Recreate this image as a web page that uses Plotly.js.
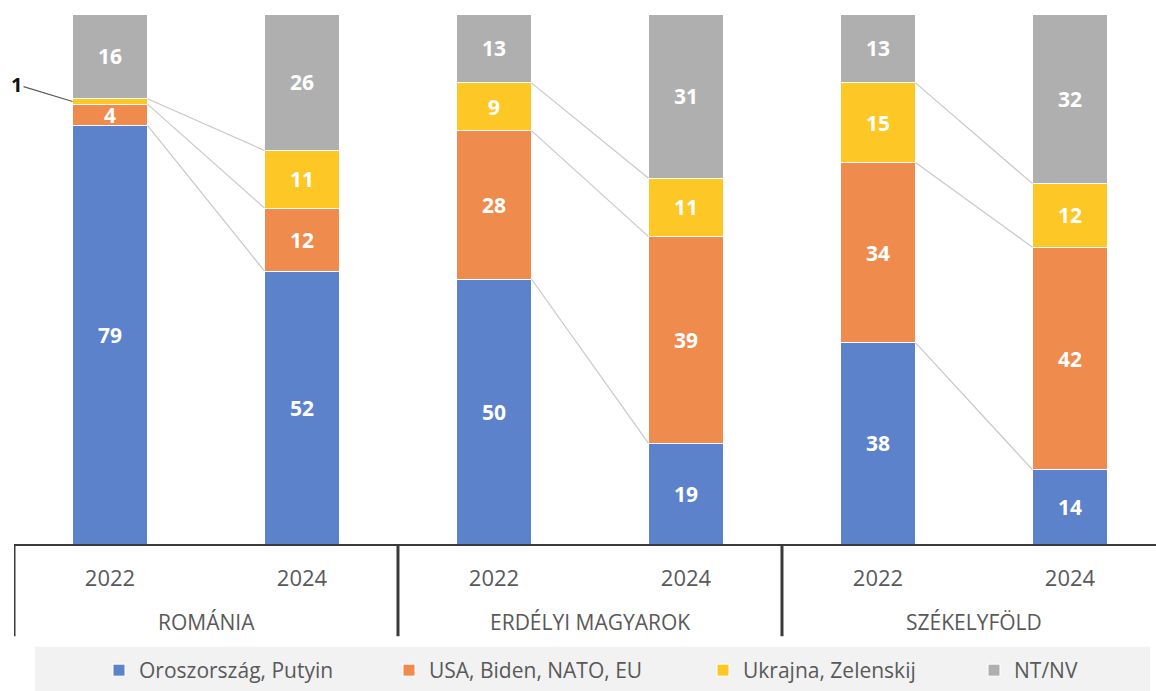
<!DOCTYPE html>
<html>
<head>
<meta charset="utf-8">
<script src="https://cdn.plot.ly/plotly-3.0.1.min.js"></script>
<style>html,body{margin:0;padding:0;background:#fff;}#chart{width:1156px;height:691px;}</style>
</head>
<body>
<div id="chart"></div>
<script>
// ---- data ----
var years = ['2022', '2024', '2022', '2024', '2022', '2024'];
var regions = ['ROMÁNIA', 'ERDÉLYI MAGYAROK', 'SZÉKELYFÖLD'];
var seriesNames = ['Oroszország, Putyin', 'USA, Biden, NATO, EU', 'Ukrajna, Zelenskij', 'NT/NV'];
var russia  = [79, 52, 50, 19, 38, 14];
var west    = [4, 12, 28, 39, 34, 42];
var ukraine = [1, 11, 9, 11, 15, 12];
var ntnv    = [16, 26, 13, 31, 13, 32];

var colors = ['#5b82cb', '#ef8b4c', '#fdc725', '#afafaf'];
var series = [russia, west, ukraine, ntnv];
var xpos = years.map(function (_, i) { return i; });
var BW = 0.39;

var font = '"Open Sans", "Noto Sans", sans-serif';
var legendKeys = ['legend', 'legend2', 'legend3', 'legend4'];

var traces = series.map(function (vals, s) {
  return {
    type: 'bar',
    name: seriesNames[s],
    x: xpos,
    y: vals,
    width: BW,
    legend: legendKeys[s],
    marker: { color: colors[s], line: { color: '#ffffff', width: 1 } },
    text: vals.map(function (v) { return v >= 3 ? String(v) : ''; }),
    textposition: 'inside',
    insidetextanchor: 'middle',
    textangle: 0,
    textfont: { family: font, size: 21, color: '#ffffff', weight: 'bold' },
    hoverinfo: 'skip'
  };
});

// normalized cumulative tops (100% stacked)
function cumTops(i) {
  var tot = 0, c = [], acc = 0;
  series.forEach(function (v) { tot += v[i]; });
  series.forEach(function (v) { acc += v[i]; c.push(acc / tot * 100); });
  return c;
}

var shapes = [];
// legend background
shapes.push({ type: 'rect', xref: 'paper', yref: 'paper', x0: 0.0184, x1: 0.9947, y0: -0.194, y1: -0.29,
  fillcolor: '#f2f2f2', line: { width: 0 }, layer: 'below' });
// connector lines between the two years of each group
for (var g = 0; g < regions.length; g++) {
  var a = cumTops(2 * g), b = cumTops(2 * g + 1);
  for (var k = 0; k < 3; k++) {
    shapes.push({ type: 'line', xref: 'x', yref: 'y',
      x0: 2 * g + BW / 2, y0: a[k], x1: 2 * g + 1 - BW / 2, y1: b[k],
      line: { color: '#c8c8c8', width: 1.2 } });
  }
}
// group separators below axis
[-0.5, 1.5, 3.5].forEach(function (xv) {
  shapes.push({ type: 'line', xref: 'x', yref: 'paper', x0: xv, x1: xv, y0: 0, y1: -0.174,
    line: { color: '#3a3a3a', width: 3 } });
});

var annotations = regions.map(function (r, g) {
  return { text: r, x: 2 * g + 0.5, xref: 'x', y: -0.147, yref: 'paper', showarrow: false,
    xanchor: 'center', yanchor: 'middle', font: { family: font, size: 21, color: '#595959' } };
});
// leader label for the small value
var t0 = cumTops(0);
annotations.push({ text: '<b>' + ukraine[0] + '</b>', x: -BW / 2, xref: 'x', y: (t0[1] + t0[2]) / 2, yref: 'y',
  showarrow: true, arrowhead: 0, arrowwidth: 1.2, arrowcolor: '#595959', ax: -56, ay: -17, standoff: 0,
  font: { family: font, size: 20, color: '#111111' } });

var legendX = [99, 389, 703, 974];
var layout = {
  width: 1156, height: 691,
  margin: { l: 14, r: 0, t: 14, b: 146 },
  paper_bgcolor: '#ffffff', plot_bgcolor: '#ffffff',
  barmode: 'stack', barnorm: 'percent',
  uniformtext: { mode: 'show', minsize: 21 },
  showlegend: true,
  hovermode: false,
  xaxis: {
    range: [-0.5, 5.448], tickmode: 'array', tickvals: xpos, ticktext: years,
    showline: true, linecolor: '#3a3a3a', linewidth: 2, showgrid: false, zeroline: false,
    ticks: '', ticklabelstandoff: 14, fixedrange: true,
    tickfont: { family: font, size: 22, color: '#595959' }
  },
  yaxis: { range: [0, 100], visible: false, showgrid: false, zeroline: false, fixedrange: true },
  shapes: shapes,
  annotations: annotations
};
legendKeys.forEach(function (key, s) {
  layout[key] = { orientation: 'h', x: (legendX[s] - 14) / 1142, xanchor: 'left', y: -0.239, yanchor: 'middle',
    itemwidth: 30,
    bgcolor: 'rgba(0,0,0,0)', font: { family: font, size: 21, color: '#595959' }, itemclick: false, itemdoubleclick: false };
});

Plotly.newPlot('chart', traces, layout, { displayModeBar: false, staticPlot: true });
</script>
</body>
</html>
